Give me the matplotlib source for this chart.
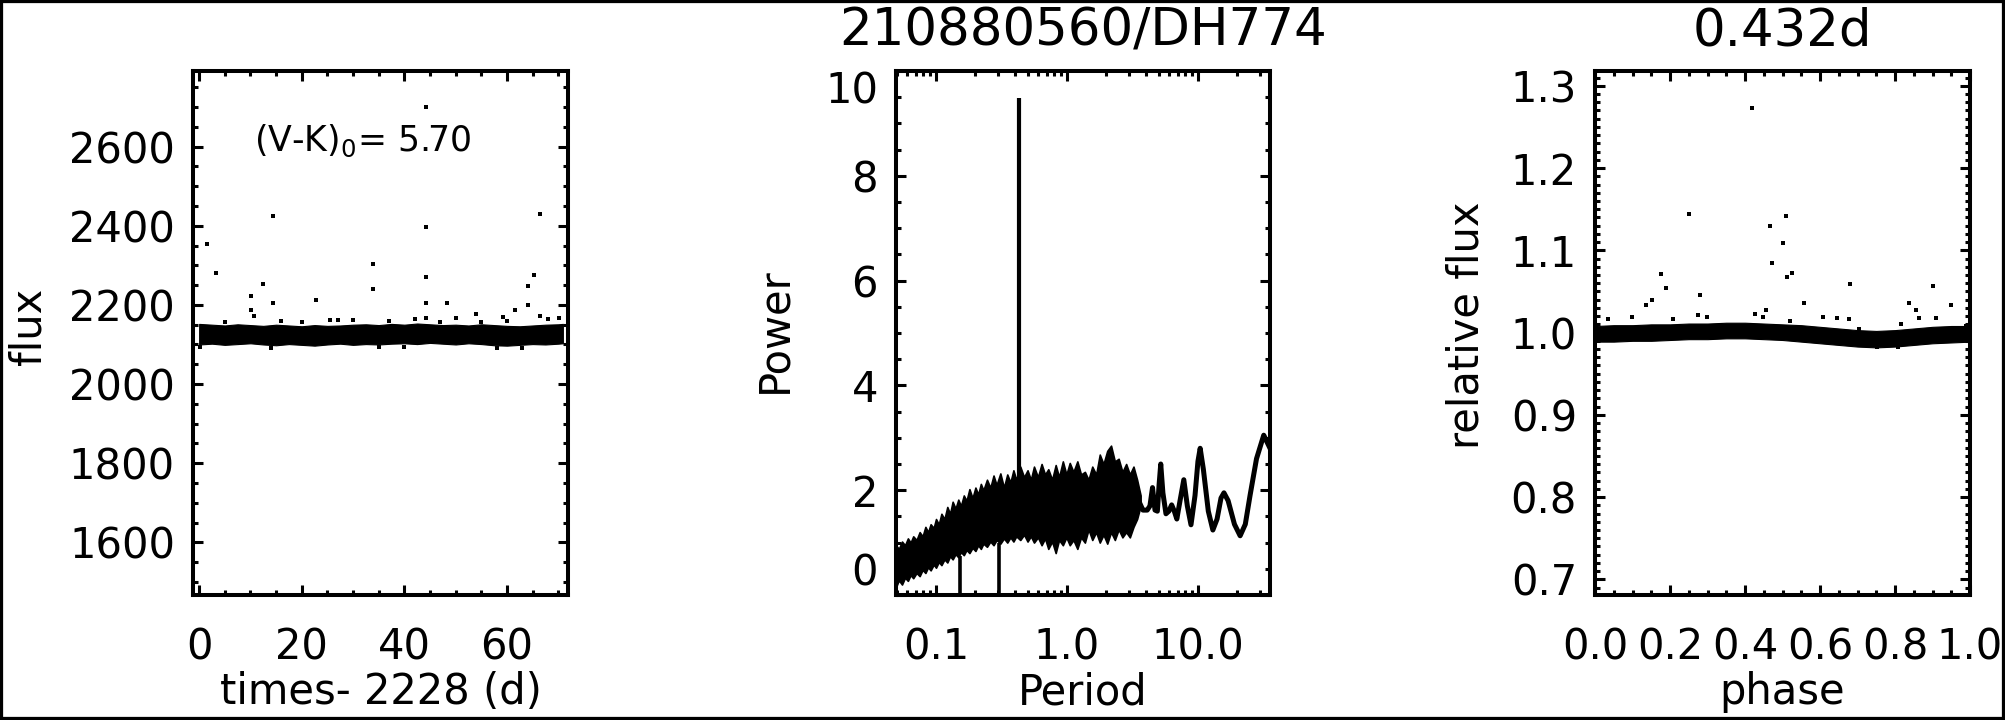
import matplotlib
matplotlib.use('Agg')
import matplotlib.pyplot as plt
from matplotlib.ticker import MultipleLocator, LogLocator, NullFormatter
from matplotlib.patches import Rectangle

plt.rcParams['font.family'] = ['DejaVu Sans']

# ---------------- Panel 1: light curve ----------------
band_time = [0.0, 2.5, 5, 7.5, 10, 12.5, 15, 17.5, 20, 22.5, 25, 27.5, 30, 32.5, 35,
             37.5, 40, 42.5, 45, 47.5, 50, 52.5, 55, 57.5, 60, 62.5, 65, 67.5, 70, 70.9]
band_flux_upper = [2152, 2150, 2148, 2151, 2149, 2147, 2150, 2148, 2146, 2149, 2147, 2148, 2150, 2151, 2149,
                   2152, 2150, 2153, 2151, 2149, 2150, 2148, 2151, 2149, 2147, 2146, 2148, 2150, 2151, 2152]
band_flux_lower = [2100, 2102, 2099, 2101, 2103, 2100, 2098, 2101, 2099, 2097, 2100, 2102, 2099, 2101, 2100,
                   2102, 2103, 2101, 2104, 2102, 2100, 2103, 2101, 2098, 2097, 2099, 2101, 2100, 2102, 2103]
outlier_time = [1.5, 3.2, 14.4, 12.4, 10.2, 10.2, 10.7, 14.4, 22.8, 25.5, 33.8, 33.8, 44.3, 44.3,
                44.3, 44.3, 48.4, 53.9, 59.3, 61.6, 64.2, 64.2, 65.2, 66.4, 66.4, 50.0, 42.0,
                30.0, 58.0, 0.2, 70.2, 44.3, 16, 5, 20, 37, 27, 60, 68, 14, 40, 47, 55, 63, 35]
outlier_flux = [2354, 2281, 2424, 2252, 2223, 2188, 2171, 2204, 2212, 2163, 2304, 2241, 2699, 2397,
                2270, 2204, 2204, 2177, 2169, 2186, 2200, 2248, 2275, 2430, 2171, 2166, 2165,
                2162, 2091, 2094, 2167, 2168, 2160, 2158, 2157, 2160, 2162, 2160, 2165, 2092, 2093,
                2157, 2158, 2092, 2094]
lc_xticks = [0, 20, 40, 60]
lc_yticks = [1600, 1800, 2000, 2200, 2400, 2600]
color_index_text = '(V-K)$_0$= 5.70'

# ---------------- Panel 2: periodogram ----------------
noise_period = [0.0495, 0.052, 0.055, 0.058, 0.061, 0.064, 0.067, 0.071, 0.075, 0.079, 0.083, 0.087,
                0.091, 0.096, 0.1, 0.105, 0.11, 0.116, 0.122, 0.128, 0.134, 0.141, 0.148, 0.155,
                0.163, 0.171, 0.18, 0.19, 0.2, 0.21, 0.22, 0.23, 0.245, 0.26, 0.275, 0.29, 0.31,
                0.33, 0.35, 0.37, 0.39, 0.41, 0.44, 0.47, 0.5, 0.53, 0.56, 0.6, 0.64, 0.68, 0.72,
                0.77, 0.82, 0.87, 0.93, 0.99, 1.05, 1.12, 1.2, 1.28, 1.37, 1.46, 1.56, 1.67, 1.78,
                1.9, 2.03, 2.17, 2.32, 2.48, 2.65, 2.83, 3.02, 3.22, 3.43, 3.65]
noise_power_upper = [0.95, 0.88, 1.02, 0.95, 1.08, 1.0, 1.12, 1.05, 1.2, 1.12, 1.3, 1.2,
                     1.35, 1.28, 1.45, 1.35, 1.55, 1.45, 1.68, 1.55, 1.78, 1.65, 1.82, 1.7,
                     1.9, 1.8, 2.02, 1.85, 2.05, 1.92, 2.12, 2.0, 2.2, 2.05, 2.28, 2.1, 2.32,
                     2.05, 2.3, 2.15, 2.38, 2.2, 2.45, 2.25, 2.38, 2.2, 2.45, 2.25, 2.5, 2.3, 2.4,
                     2.2, 2.48, 2.25, 2.55, 2.3, 2.52, 2.35, 2.55, 2.3, 2.35, 2.2, 2.45, 2.3, 2.68,
                     2.5, 2.75, 2.85, 2.55, 2.6, 2.35, 2.5, 2.3, 2.45, 2.2, 1.9]
noise_power_lower = [0.15, 0.28, 0.2, 0.33, 0.27, 0.38, 0.32, 0.42, 0.36, 0.48, 0.42, 0.53,
                     0.47, 0.58, 0.52, 0.63, 0.57, 0.68, 0.62, 0.74, 0.68, 0.78, 0.72, 0.82,
                     0.76, 0.86, 0.8, 0.9, 0.84, 0.95, 0.88, 0.98, 0.92, 1.02, 0.95, 1.05, 0.98,
                     1.08, 1.0, 1.1, 1.02, 1.12, 1.05, 1.15, 1.02, 1.12, 1.0, 1.1, 0.95, 1.08, 0.88,
                     1.02, 0.8, 1.05, 0.95, 1.1, 0.95, 1.05, 0.88, 1.1, 1.0, 1.25, 1.05, 1.2, 1.0,
                     1.15, 0.98, 1.2, 1.05, 1.25, 1.1, 1.2, 1.1, 1.3, 1.45, 1.7]
smooth_period = [3.6, 3.8, 4.1, 4.3, 4.5, 4.7, 4.9, 5.05, 5.2, 5.4, 5.7, 6.0, 6.3, 6.6, 6.9, 7.3,
                 7.8, 8.3, 8.85, 9.5, 10.0, 10.4, 11.0, 12.0, 13.0, 14.0, 15.0, 15.8, 17.0, 19.0,
                 21.0, 23.0, 25.0, 28.0, 31.8, 35.5]
smooth_power = [1.75, 1.62, 1.62, 1.7, 2.05, 1.62, 1.6, 2.1, 2.5, 1.95, 1.55, 1.6, 1.72, 1.6, 1.45, 1.8,
                2.2, 1.7, 1.34, 1.9, 2.55, 2.8, 2.4, 1.6, 1.24, 1.45, 1.85, 1.95, 1.8, 1.35,
                1.13, 1.35, 1.9, 2.6, 3.05, 2.8]
peak_period = [0.432]
peak_power = [9.49]
dip_period = [0.152, 0.301]
dip_power = [0.75, 1.0]
pg_xticks = [0.1, 1.0, 10.0]
pg_xticklabels = ['0.1', '1.0', '10.0']
pg_yticks = [0, 2, 4, 6, 8, 10]
pg_title = '210880560/DH774'

# ---------------- Panel 3: phased light curve ----------------
phase_knots = [0.0, 0.05, 0.1, 0.15, 0.2, 0.25, 0.3, 0.35, 0.4, 0.45, 0.5, 0.55, 0.6, 0.65, 0.7,
               0.75, 0.8, 0.85, 0.9, 0.95, 1.0]
phase_flux_upper = [1.008, 1.009, 1.009, 1.010, 1.010, 1.011, 1.011, 1.012, 1.012, 1.011, 1.010,
                    1.009, 1.007, 1.005, 1.003, 1.002, 1.003, 1.005, 1.007, 1.008, 1.008]
phase_flux_lower = [0.989, 0.989, 0.990, 0.990, 0.991, 0.992, 0.992, 0.993, 0.993, 0.992, 0.991,
                    0.989, 0.987, 0.985, 0.983, 0.982, 0.983, 0.985, 0.987, 0.988, 0.989]
phase_out = [0.418, 0.250, 0.509, 0.466, 0.502, 0.471, 0.526, 0.512, 0.175, 0.188, 0.281, 0.152,
             0.136, 0.558, 0.681, 0.902, 0.838, 0.855, 0.949, 0.034, 0.098, 0.209, 0.275, 0.298,
             0.427, 0.457, 0.447, 0.609, 0.645, 0.676, 0.519, 0.704, 0.817, 0.863, 0.909, 0.989,
             0.752, 0.807]
relflux_out = [1.273, 1.144, 1.142, 1.129, 1.109, 1.084, 1.073, 1.068, 1.071, 1.054, 1.046, 1.040,
               1.033, 1.036, 1.059, 1.057, 1.036, 1.028, 1.034, 1.016, 1.019, 1.017, 1.021, 1.019,
               1.023, 1.027, 1.019, 1.019, 1.018, 1.017, 1.014, 1.004, 1.011, 1.018, 1.018, 1.008,
               0.982, 0.983]
ph_xticks = [0.0, 0.2, 0.4, 0.6, 0.8, 1.0]
ph_yticks = [0.7, 0.8, 0.9, 1.0, 1.1, 1.2, 1.3]
ph_title = '0.432d'

# ---------------- Figure ----------------
W, H = 2005, 720
fig = plt.figure(figsize=(W / 100, H / 100), dpi=100)
fig.patches.append(Rectangle((0, 0), 1, 1, transform=fig.transFigure, fill=False,
                             lw=4.5, ec='black', zorder=10))


def axes_px(left, top, right, bottom):
    return fig.add_axes([left / W, 1 - bottom / H, (right - left) / W, (bottom - top) / H])


TICK_FS = 30
LAB_FS = 30
TITLE_FS = 37


def style(ax):
    for s in ax.spines.values():
        s.set_linewidth(2.9)
    ax.tick_params(which='both', direction='in', top=True, right=True, width=2.2,
                   labelsize=TICK_FS)
    ax.tick_params(which='major', length=7.5)
    ax.tick_params(which='minor', length=3.8)
    ax.tick_params(axis='x', pad=23)
    ax.tick_params(axis='y', pad=13)


ax1 = axes_px(193, 71, 568, 595)
ax2 = axes_px(896, 71, 1270, 595)
ax3 = axes_px(1595, 71, 1970, 595)

# Panel 1
ax1.fill_between(band_time, band_flux_lower, band_flux_upper, color='black', lw=0.8)
ax1.plot(outlier_time, outlier_flux, ls='none', marker='s', ms=2.3, mew=0, color='black')
ax1.set_xlim(-1.2, 71.9)
ax1.set_ylim(1467, 2791)
ax1.set_xticks(lc_xticks)
ax1.set_yticks(lc_yticks)
ax1.xaxis.set_minor_locator(MultipleLocator(5))
ax1.yaxis.set_minor_locator(MultipleLocator(50))
style(ax1)
ax1.set_xlabel('times- 2228 (d)', fontsize=LAB_FS, labelpad=1.5)
ax1.set_ylabel('flux', fontsize=LAB_FS, va='center')
ax1.yaxis.set_label_coords(-0.44, 0.513)
ax1.text(0.163, 0.847, color_index_text, transform=ax1.transAxes, fontsize=25,
         ha='left', va='baseline')

# Panel 2
ax2.fill_between(noise_period, noise_power_lower, noise_power_upper, color='black', lw=1.2)
ax2.plot(smooth_period, smooth_power, color='black', lw=3.6, solid_joinstyle='round')
ax2.vlines(peak_period, 2.0, peak_power, color='black', lw=3.0)
ax2.vlines(dip_period, 0, dip_power, color='black', lw=2.6)
ax2.set_xscale('log')
ax2.set_xlim(0.0495, 35.5)
ax2.set_ylim(0, 10)
ax2.set_xticks(pg_xticks, labels=pg_xticklabels)
ax2.xaxis.set_minor_locator(LogLocator(base=10, subs=[2, 3, 4, 5, 6, 7, 8, 9]))
ax2.xaxis.set_minor_formatter(NullFormatter())
ax2.set_yticks(pg_yticks)
ax2.yaxis.set_minor_locator(MultipleLocator(0.5))
style(ax2)
ylabs = ax2.get_yticklabels()
ylabs[0].set_va('bottom')
ylabs[-1].set_va('top')
ax2.set_xlabel('Period', fontsize=LAB_FS, labelpad=1.5)
ax2.set_ylabel('Power', fontsize=LAB_FS, va='center')
ax2.yaxis.set_label_coords(-0.325, 0.505)
ax2.set_title(pg_title, fontsize=TITLE_FS, pad=18)

# Panel 3
ax3.fill_between(phase_knots, phase_flux_lower, phase_flux_upper, color='black', lw=0.8)
ax3.plot(phase_out, relflux_out, ls='none', marker='s', ms=2.3, mew=0, color='black')
ax3.set_xlim(0, 1)
ax3.set_ylim(0.681, 1.318)
ax3.set_xticks(ph_xticks, labels=[f'{v:.1f}' for v in ph_xticks])
ax3.set_yticks(ph_yticks, labels=[f'{v:.1f}' for v in ph_yticks])
ax3.xaxis.set_minor_locator(MultipleLocator(0.05))
ax3.yaxis.set_minor_locator(MultipleLocator(0.01))
style(ax3)
ax3.set_xlabel('phase', fontsize=LAB_FS, labelpad=1.5)
ax3.set_ylabel('relative flux', fontsize=LAB_FS, va='center')
ax3.yaxis.set_label_coords(-0.343, 0.515)
ax3.set_title(ph_title, fontsize=TITLE_FS, pad=18)

fig.savefig('out.png', dpi=100)
